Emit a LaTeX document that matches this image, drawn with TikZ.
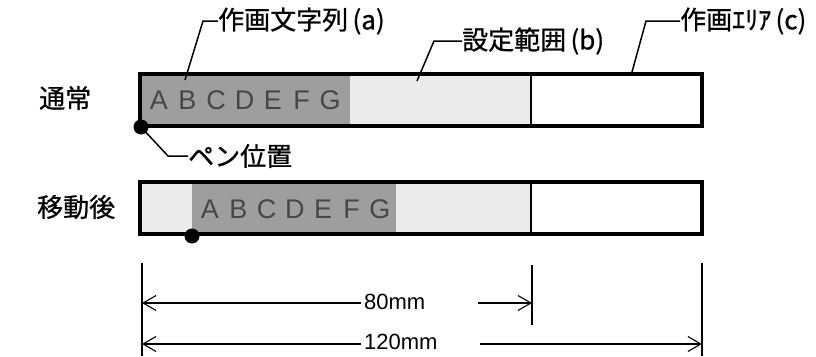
\documentclass[tikz,border=0pt]{standalone}
\usepackage{fontspec}
\setmainfont{Liberation Sans}
\newfontfamily\jp[FakeBold=0.8]{Noto Sans CJK JP}
\usetikzlibrary{arrows.meta}
\begin{document}
\begin{tikzpicture}[x=1pt,y=-1pt,
  jplabel/.style={font=\jp\fontsize{26}{26}\selectfont, inner sep=0pt, anchor=west},
  leader/.style={line width=1.5pt},
  barframe/.style={line width=4.8pt},
  darkfill/.style={fill=black!38},
  lightfill/.style={fill=black!8},
  letter/.style={font=\fontsize{27}{27}\selectfont, text=black!72, inner sep=0pt, anchor=base},
  pen/.style={circle, fill=black, inner sep=0pt, minimum size=15pt},
  dimline/.style={line width=1.1pt},
  dimarrow/.style={line width=1.1pt, -{Straight Barb[length=13pt,width=15pt]}},
  dimtext/.style={font=\fontsize{22}{22}\selectfont, inner sep=0pt, anchor=west}]
\useasboundingbox[fill=white] (0,0) rectangle (816,356);

% ---------- top bar (normal) ----------
\fill[darkfill] (140,74) rectangle (350,126);
\fill[lightfill] (350,74) rectangle (531,126);
\draw[line width=1.5pt] (531,74) -- (531,126);
\foreach \l [count=\i from 0] in {A,B,C,D,E,F,G}
  \node[letter] (ta\i) at (159+28.5*\i,109) {\l};
\draw[barframe] (140,74) rectangle (702,126);
\node[pen] (pen1) at (141,127) {};

% ---------- bottom bar (moved) ----------
\fill[lightfill] (140,182) rectangle (192,234);
\fill[darkfill] (192,182) rectangle (396,234);
\fill[lightfill] (396,182) rectangle (531,234);
\draw[line width=1.5pt] (531,182) -- (531,234);
\foreach \l [count=\i from 0] in {A,B,C,D,E,F,G}
  \node[letter] (ba\i) at (210+28.3*\i,218) {\l};
\draw[barframe] (140,182) rectangle (702,234);
\node[pen] (pen2) at (192,236) {};

% ---------- row labels ----------
\node[jplabel] (normal) at (39,98) {通常};
\node[jplabel] (moved) at (37,207) {移動後};

% ---------- leaders ----------
\node[jplabel] (la) at (218,21) {作画文字列\,(a)};
\node[jplabel] (lb) at (462,41) {設定範囲\,(b)};
\node[jplabel] (lc) at (680,21) {作画ｴﾘｱ\,(c)};
\node[jplabel] (lp) at (188,156) {ペン位置};
\coordinate (pa) at (185,80);
\coordinate (pb) at (417,81);
\coordinate (pc) at (632,72);
\draw[leader] (pa) -- (203,21) -- (la.west);
\draw[leader] (pb) -- (434,41) -- (lb.west);
\draw[leader] (pc) -- (646,21) -- (lc.west);
\draw[leader] (pen1.center) -- (168,156) -- (lp.west);

% ---------- dimensions ----------
\coordinate (e1t) at (142,263); \coordinate (e1b) at (142,356);
\coordinate (e2t) at (532,265); \coordinate (e2b) at (532,325);
\coordinate (e3t) at (702,263); \coordinate (e3b) at (702,356);
\draw[dimline] (e1t) -- (e1b);
\draw[dimline] (e2t) -- (e2b);
\draw[dimline] (e3t) -- (e3b);

\node[dimtext] (t80) at (364,302) {80mm};
\coordinate (l80) at (142,303); \coordinate (r80) at (532,303);
\coordinate (a80) at (361,303); \coordinate (b80) at (478,303);
\draw[dimarrow] (a80) -- (l80);
\draw[dimarrow] (b80) -- (r80);

\node[dimtext] (t120) at (364,342) {120mm};
\coordinate (l120) at (142,344); \coordinate (r120) at (702,344);
\coordinate (a120) at (361,344); \coordinate (b120) at (480,344);
\draw[dimarrow] (a120) -- (l120);
\draw[dimarrow] (b120) -- (r120);
\end{tikzpicture}
\end{document}
